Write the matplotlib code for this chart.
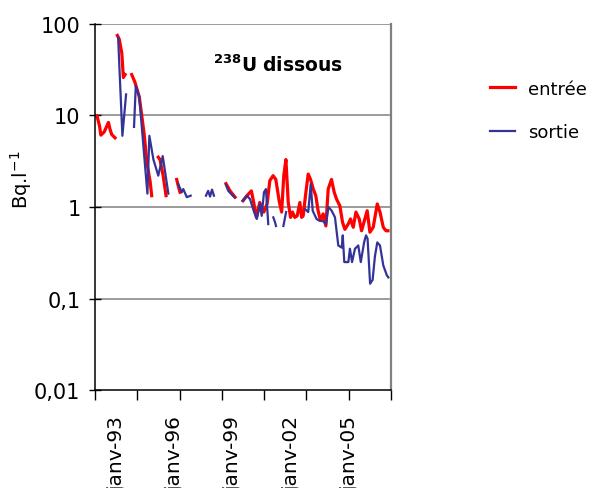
import numpy as np
import matplotlib
matplotlib.use('Agg')
import matplotlib.pyplot as plt

plt.rcParams['font.family'] = 'DejaVu Sans'
plt.rcParams['mathtext.fontset'] = 'dejavusans'

nan = np.nan

# entrée (decimal years, Bq/l) - nan marks a gap in the record
entree_t = [1991.97, 1992.10, 1992.17, 1992.34, 1992.56, 1992.64, 1992.73, 1992.90, nan,
            1993.02, 1993.12, 1993.25, 1993.33, 1993.42, nan,
            1993.76, 1993.93, 1994.15, 1994.28, 1994.40, 1994.55, 1994.71, 1994.79, nan,
            1995.13, 1995.22, 1995.38, 1995.53, nan,
            1996.08, 1996.16, 1996.25, nan,
            1998.62, 1998.83, 1999.09, nan,
            1999.50, 1999.70, 1999.93, 2000.05, 2000.19, 2000.36, 2000.57, 2000.74,
            2000.88, 2001.05, 2001.19, 2001.36, 2001.49, 2001.60, 2001.71, 2001.83,
            2001.95, 2002.05, 2002.17, 2002.29, 2002.43, 2002.52, 2002.60, 2002.74,
            2002.86, 2002.98, 2003.12, 2003.25, 2003.37, 2003.49, 2003.63, 2003.77,
            2003.89, 2004.06, 2004.20, 2004.32, 2004.49, 2004.63, 2004.75, 2004.92,
            2005.04, 2005.18, 2005.32, 2005.49, 2005.61, 2005.78, 2005.90, 2006.04,
            2006.21, 2006.42, 2006.56, 2006.73, 2006.87, 2006.97]
entree_v = [9.9, 7.7, 6.1, 6.6, 8.4, 7.1, 6.2, 5.7, nan,
            75, 68, 48, 26, 28, nan,
            28, 23, 16, 9.9, 6.3, 3.0, 1.9, 1.33, nan,
            3.5, 3.3, 2.2, 1.33, nan,
            2.0, 1.7, 1.45, nan,
            1.8, 1.5, 1.28, nan,
            1.17, 1.33, 1.5, 1.12, 0.77, 1.12, 0.88, 1.08,
            1.94, 2.2, 2.0, 1.17, 0.88, 2.2, 3.3, 1.12,
            0.77, 0.88, 0.77, 0.80, 1.12, 0.77, 0.80, 1.45,
            2.29, 2.0, 1.57, 1.33, 0.91, 0.71, 0.84, 0.62,
            1.57, 2.0, 1.45, 1.22, 1.03, 0.68, 0.57, 0.65,
            0.74, 0.60, 0.88, 0.74, 0.55, 0.74, 0.91, 0.53,
            0.60, 1.08, 0.88, 0.60, 0.55, 0.55]

# sortie
sortie_t = [1993.06, 1993.28, 1993.47, nan,
            1993.88, 1993.97, 1994.15, 1994.35, 1994.57, 1994.67, 1994.88, 1995.13,
            1995.36, 1995.65, nan,
            1996.16, 1996.34, 1996.42, 1996.60, 1996.80, nan,
            1997.59, 1997.70, 1997.80, 1997.90, 1998.00, nan,
            1998.62, 1998.74, 1998.97, 1999.05, nan,
            1999.48, 1999.69, 1999.86, 2000.07, 2000.21, 2000.38, 2000.46, 2000.58,
            2000.68, 2000.80, nan,
            2001.06, 2001.15, 2001.20, nan,
            2001.58, 2001.72, nan,
            2002.69, 2002.86, 2002.99, 2003.09, 2003.29, 2003.43, 2003.62, 2003.78,
            2003.90, 2004.07, 2004.24, 2004.41, 2004.59, 2004.64, 2004.72, 2004.93,
            2005.01, 2005.12, 2005.27, 2005.44, 2005.57, 2005.74, 2005.84, 2005.92,
            2006.05, 2006.18, 2006.30, 2006.42, 2006.56, 2006.73, 2006.91, 2006.99]
sortie_v = [71, 6.0, 17, nan,
            7.5, 21, 16, 5.0, 1.4, 6.0, 3.3, 2.2,
            3.6, 1.4, nan,
            1.78, 1.45, 1.57, 1.28, 1.33, nan,
            1.33, 1.5, 1.3, 1.55, 1.33, nan,
            1.74, 1.5, 1.33, 1.28, nan,
            1.17, 1.33, 1.22, 0.88, 0.74, 1.08, 0.80, 1.45,
            1.57, 0.65, nan,
            0.77, 0.68, 0.62, nan,
            0.62, 0.88, nan,
            0.95, 0.88, 1.78, 0.91, 0.74, 0.71, 0.70, 0.65,
            1.0, 0.91, 0.77, 0.38, 0.36, 0.49, 0.25, 0.25,
            0.35, 0.25, 0.35, 0.38, 0.25, 0.41, 0.49, 0.45,
            0.145, 0.16, 0.29, 0.41, 0.38, 0.23, 0.18, 0.17]

tick_years = [1993, 1996, 1999, 2002, 2005]
tick_labels = ['janv-93', 'janv-96', 'janv-99', 'janv-02', 'janv-05']
y_ticks = [0.01, 0.1, 1, 10, 100]
y_labels = ['0,01', '0,1', '1', '10', '100']

x_min, x_max = 1991.87, 2007.12

fig = plt.figure(figsize=(5.94, 4.89), dpi=100)
ax = fig.add_axes([0.160, 0.2004, 0.498, 0.7485])

ax.plot(entree_t, entree_v, color='#ff0000', lw=2.3, label='entrée')
ax.plot(sortie_t, sortie_v, color='#333399', lw=1.6, label='sortie')

ax.set_yscale('log')
ax.set_ylim(0.01, 100)
ax.set_xlim(x_min, x_max)

for v in [0.1, 1, 10, 100]:
    ax.axhline(v, color='#808080', lw=1.1, zorder=0.5)

ax.set_yticks(y_ticks)
ax.set_yticklabels(y_labels)
ax.yaxis.set_minor_locator(matplotlib.ticker.NullLocator())
ax.tick_params(axis='y', direction='inout', length=9, width=1, labelsize=15, pad=6)

ax.set_xticks(tick_years)
ax.set_xticklabels(tick_labels, rotation=90, ha='center', va='top')
ax.set_xticks(np.linspace(x_min, x_max, 8), minor=True)
ax.tick_params(axis='x', which='major', length=0, labelsize=14.5, pad=18)
ax.tick_params(axis='x', which='minor', direction='out', length=7.5, width=1)

for s in ['left', 'bottom']:
    ax.spines[s].set_color('black')
    ax.spines[s].set_linewidth(1.1)
ax.spines['right'].set_color('#808080')
ax.spines['right'].set_linewidth(1.6)
ax.spines['top'].set_visible(False)

ax.set_ylabel('Bq.l$^{-1}$', fontsize=14)
ax.yaxis.set_label_coords(-0.205, 0.577)

ax.text(0.618, 0.89, r'$\mathbf{{}^{238}U\ dissous}$', transform=ax.transAxes,
        ha='center', va='center', fontsize=13.5)

fig.legend(loc='upper left', bbox_to_anchor=(0.797, 0.868), frameon=False,
           fontsize=13, handlelength=1.4, handletextpad=0.7, labelspacing=1.4)

plt.savefig('out.png', dpi=100)
